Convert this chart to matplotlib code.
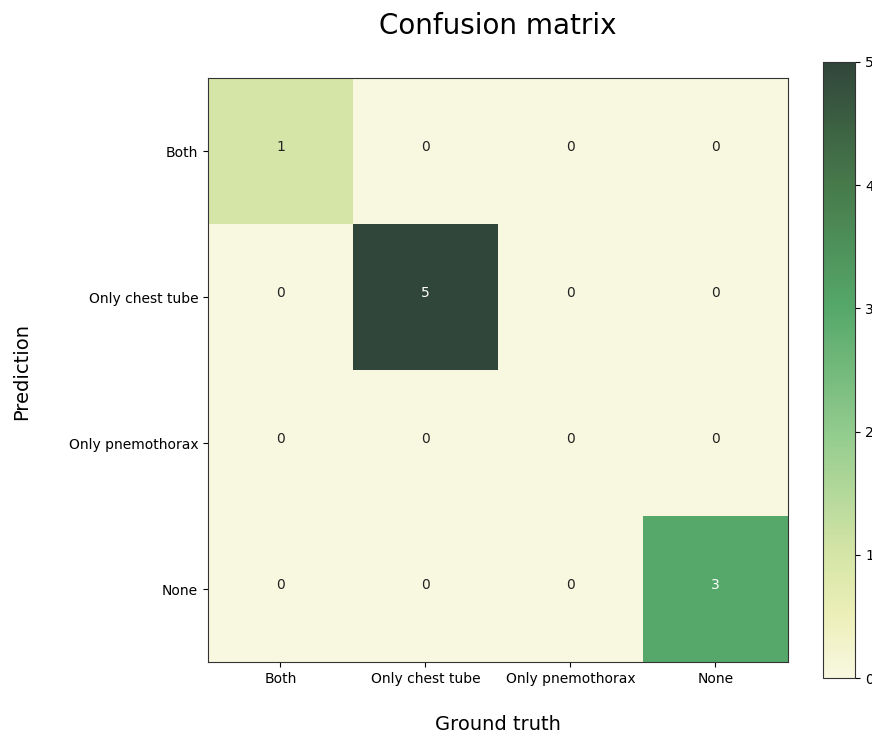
import matplotlib
matplotlib.use("Agg")
import matplotlib.pyplot as plt
import numpy as np
from matplotlib.colors import LinearSegmentedColormap

categories = ["Both", "Only chest tube", "Only pnemothorax", "None"]
matrix = [
    [1, 0, 0, 0],
    [0, 5, 0, 0],
    [0, 0, 0, 0],
    [0, 0, 0, 3],
]
cbar_ticks = [0, 1, 2, 3, 4, 5]

cmap = LinearSegmentedColormap.from_list(
    "ylgn_custom",
    [(0.0, "#f8f8e0"), (0.1, "#ecefb8"), (0.2, "#d5e5a7"), (0.4, "#91cb8d"),
     (0.6, "#55a86a"), (0.8, "#477a4b"), (1.0, "#31463a")])

data = np.array(matrix)
fig = plt.figure(figsize=(8.72, 7.38), dpi=100)
ax = fig.add_axes([0.2385, 0.103, 0.665, 0.791])
im = ax.imshow(data, cmap=cmap, vmin=0, vmax=5, aspect="auto")
ax.set_xticks(range(len(categories)))
ax.set_xticklabels(categories, fontsize=10)
ax.set_yticks(range(len(categories)))
ax.set_yticklabels(categories, fontsize=10)
for i in range(data.shape[0]):
    for j in range(data.shape[1]):
        v = data[i, j]
        ax.text(j, i - 0.03, str(v), ha="center", va="center", fontsize=10,
                color="white" if v > 2.5 else "#222222")
for s in ax.spines.values():
    s.set_color("#333333")

fig.text(0.571, 0.965, "Confusion matrix", ha="center", va="center", fontsize=20)
fig.text(0.025, 0.497, "Prediction", rotation=90, ha="center", va="center", fontsize=14)
fig.text(0.571, 0.018, "Ground truth", ha="center", va="center", fontsize=14)

cax = fig.add_axes([0.944, 0.0813, 0.037, 0.835])
cb = fig.colorbar(im, cax=cax, ticks=cbar_ticks)
cb.ax.tick_params(labelsize=10)
cb.outline.set_edgecolor("#333333")

fig.savefig("out.png", dpi=100)
